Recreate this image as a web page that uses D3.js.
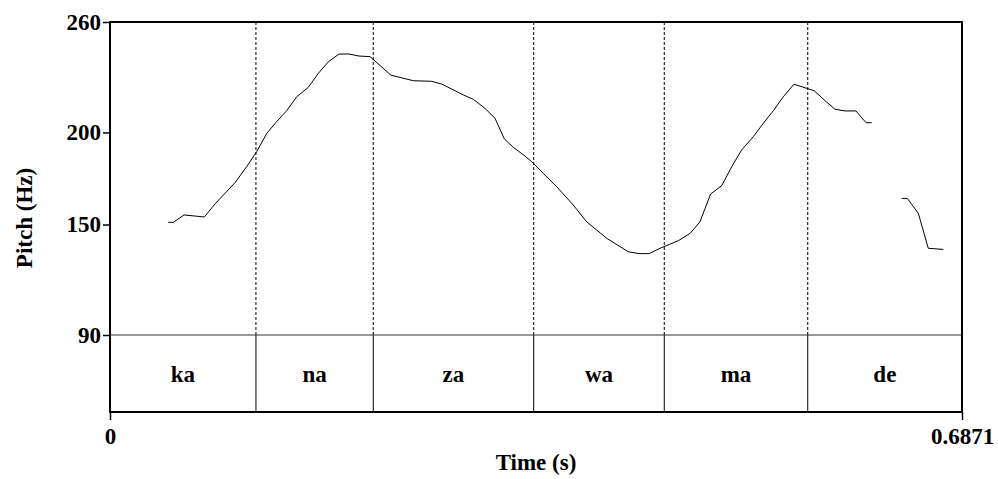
<!DOCTYPE html>
<html>
<head>
<meta charset="utf-8">
<script src="https://cdn.jsdelivr.net/npm/d3@7"></script>
<style>
  body { margin: 0; background: #fff; }
  svg text { font-family: "Times New Roman", "Liberation Serif", serif; font-weight: bold; fill: #000; }
</style>
</head>
<body>
<svg width="998" height="479"></svg>
<script>
const svg = d3.select("svg");

// data
const duration = 0.6871;
const yTicks = [90, 150, 200, 260];
const xTicks = [0, 0.6871];
const syllables = ["ka", "na", "za", "wa", "ma", "de"];
const bounds = [0, 0.1177, 0.2123, 0.3417, 0.4470, 0.5627, 0.6871];

// pitch track (s, Hz); null = unvoiced gap
const times = [0.0470, 0.0511, 0.0597, 0.0761, 0.0847, 0.1008, 0.1102, 0.1183, 0.1264, 0.1344,
  0.1425, 0.1506, 0.1599, 0.1680, 0.1761, 0.1847, 0.1927, 0.2008, 0.2097, 0.2266,
  0.2446, 0.2594, 0.2675, 0.2849, 0.2930, 0.3024, 0.3105, 0.3180, 0.3253, 0.3347,
  0.3414, 0.3494, 0.3603, 0.3736, 0.3844, 0.4006, 0.4180, 0.4266, 0.4349, 0.4436,
  0.4583, 0.4678, 0.4758, 0.4844, 0.4933, 0.5014, 0.5094, 0.5188, 0.5269, 0.5349,
  0.5430, 0.5516, 0.5678, 0.5766, 0.5847, 0.5928, 0.6016, 0.6097, 0.6143, 0.6250,
  0.6385, 0.6430, 0.6519, 0.6599, 0.6720];
const pitch = [151.2, 151.2, 155.2, 154.1, 161.2, 172.7, 181.4, 189.6, 199.5, 205.9,
  211.8, 219.4, 224.5, 232.1, 238.4, 242.6, 242.6, 241.5, 241.2, 231.1,
  228.1, 227.8, 226.3, 220.4, 218.0, 213.1, 207.7, 196.5, 191.9, 187.2,
  183.3, 177.8, 170.5, 160.6, 151.5, 142.5, 135.2, 134.2, 134.2, 137.1,
  141.2, 145.2, 151.5, 166.6, 171.1, 181.4, 190.5, 197.7, 205.0, 211.8,
  219.4, 226.2, 222.7, 217.3, 212.6, 211.7, 211.7, 205.3, 205.3, null,
  164.2, 164.2, 156.1, 137.1, 136.5];

const plotLeft = 110, plotRight = 962, plotTop = 22, tierTop = 335, plotBottom = 412;

const x = d3.scaleLinear().domain([0, duration]).range([plotLeft, plotRight]);
const y = d3.scaleLinear().domain([90, 260]).range([tierTop, plotTop]);

// dotted boundaries in pitch area
svg.append("g")
  .selectAll("line")
  .data(bounds.slice(1, -1))
  .enter()
  .append("line")
  .attr("x1", d => x(d)).attr("x2", d => x(d))
  .attr("y1", plotTop).attr("y2", tierTop)
  .attr("stroke", "#000")
  .attr("stroke-width", 1)
  .attr("stroke-dasharray", "3 2");

// tier boundaries (solid)
svg.append("g")
  .selectAll("line")
  .data(bounds.slice(1, -1))
  .enter()
  .append("line")
  .attr("x1", d => x(d)).attr("x2", d => x(d))
  .attr("y1", tierTop).attr("y2", plotBottom)
  .attr("stroke", "#000")
  .attr("stroke-width", 1);

// tier top line
svg.append("line")
  .attr("x1", plotLeft).attr("x2", plotRight)
  .attr("y1", tierTop).attr("y2", tierTop)
  .attr("stroke", "#333")
  .attr("stroke-width", 1);

// tier labels
svg.append("g")
  .selectAll("text")
  .data(syllables)
  .enter()
  .append("text")
  .attr("x", (d, i) => (x(bounds[i]) + x(bounds[i + 1])) / 2)
  .attr("y", 382)
  .attr("text-anchor", "middle")
  .attr("font-size", 23)
  .text(d => d);

// pitch curve
const pts = times.map((t, i) => ({ t: t, f: pitch[i] }));
svg.append("path")
  .datum(pts)
  .attr("fill", "none")
  .attr("stroke", "#000")
  .attr("stroke-width", 1)
  .attr("d", d3.line()
    .defined(d => d.f !== null)
    .x(d => x(d.t))
    .y(d => y(d.f)));

// frame
svg.append("rect")
  .attr("x", plotLeft).attr("y", plotTop)
  .attr("width", plotRight - plotLeft).attr("height", plotBottom - plotTop)
  .attr("fill", "none")
  .attr("stroke", "#000")
  .attr("stroke-width", 2);

// axes
const yAxis = svg.append("g")
  .attr("transform", `translate(${plotLeft},0)`)
  .call(d3.axisLeft(y).tickValues(yTicks).tickFormat(d3.format("d")).tickSize(7).tickPadding(2).tickSizeOuter(0));
yAxis.select(".domain").remove();
yAxis.selectAll("line").attr("stroke", "#000").attr("stroke-width", 1.5);
yAxis.selectAll("text").attr("font-size", 23).attr("font-family", null);

const xAxis = svg.append("g")
  .attr("transform", `translate(0,${plotBottom})`)
  .call(d3.axisBottom(x).tickValues(xTicks).tickFormat(d => d === 0 ? "0" : String(d)).tickSize(8).tickPadding(8).tickSizeOuter(0));
xAxis.select(".domain").remove();
xAxis.selectAll("line").attr("stroke", "#000").attr("stroke-width", 1.5);
xAxis.selectAll("text").attr("font-size", 23).attr("font-family", null);

// axis titles
svg.append("text")
  .attr("transform", "translate(32,218) rotate(-90)")
  .attr("text-anchor", "middle")
  .attr("font-size", 23)
  .text("Pitch (Hz)");

svg.append("text")
  .attr("x", (plotLeft + plotRight) / 2)
  .attr("y", 470)
  .attr("text-anchor", "middle")
  .attr("font-size", 23)
  .text("Time (s)");
</script>
</body>
</html>
